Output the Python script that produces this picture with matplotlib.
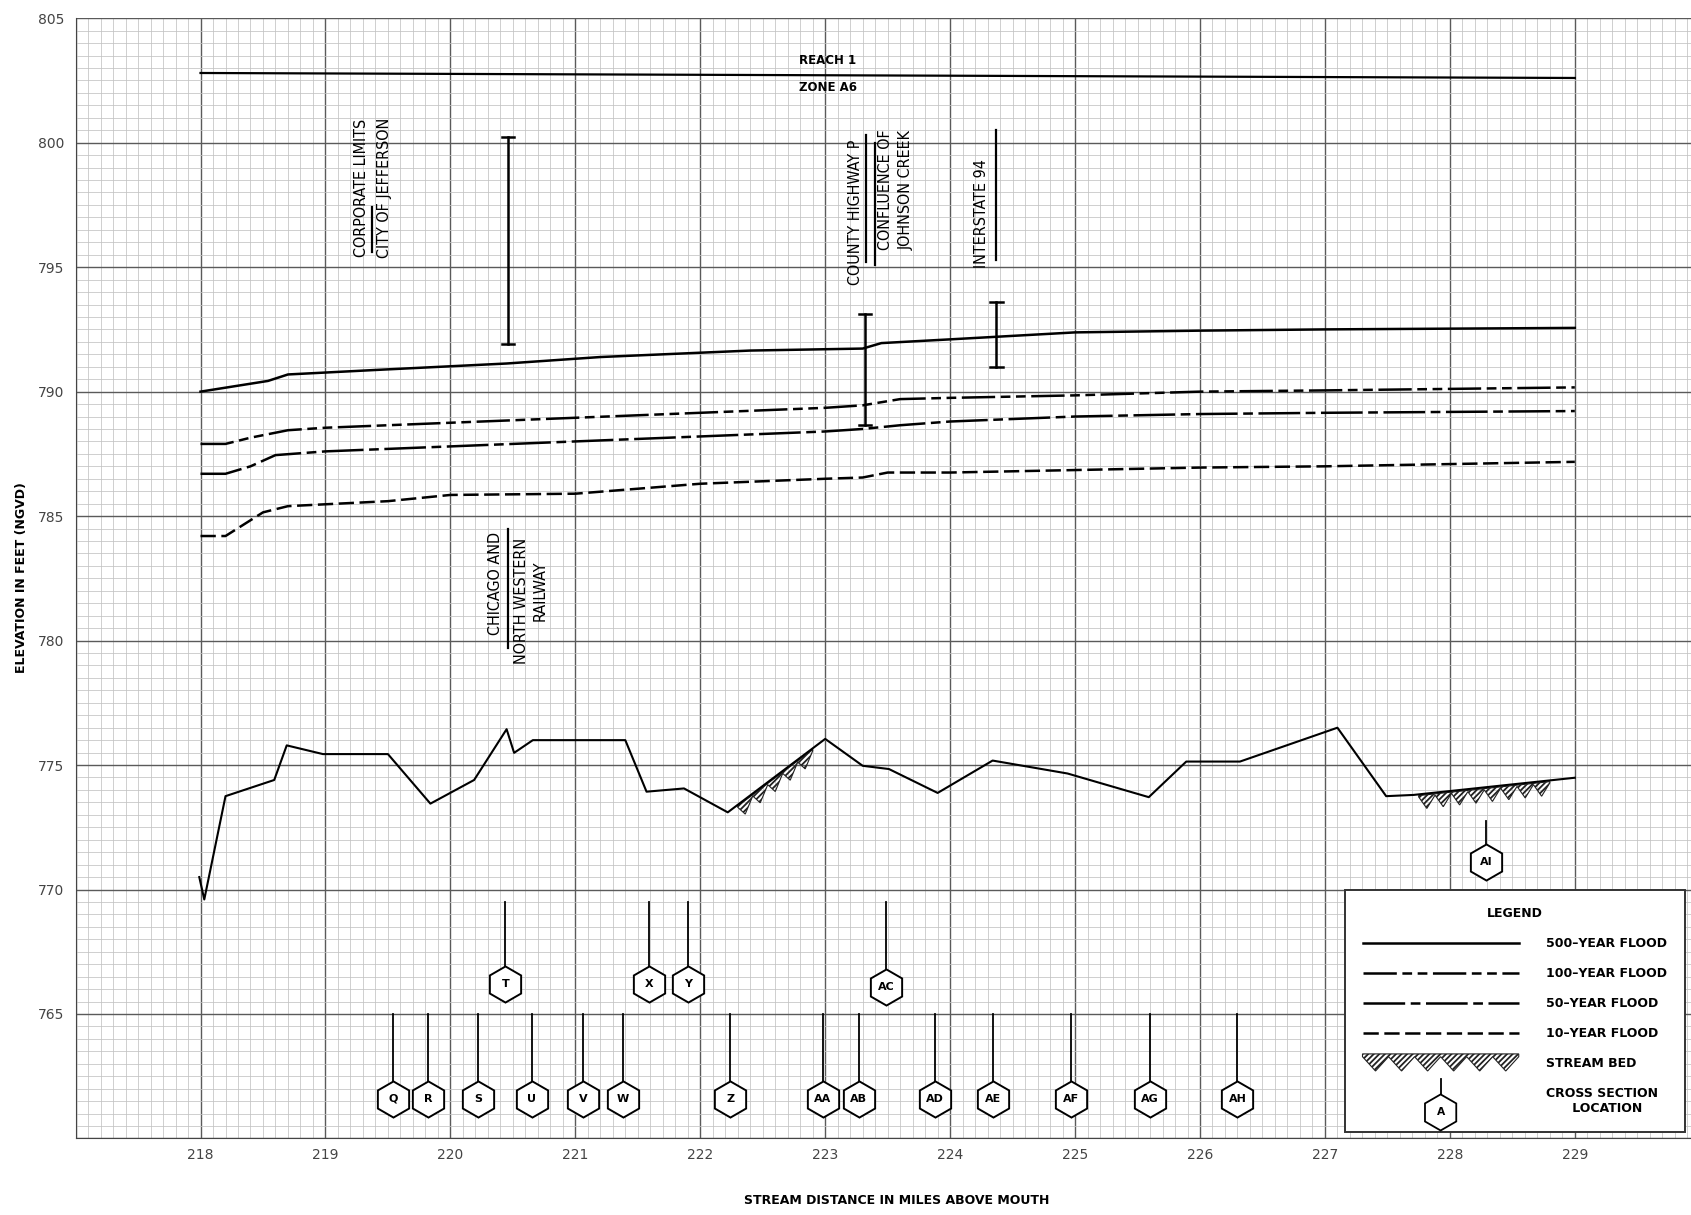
import numpy as np
import matplotlib
matplotlib.use("Agg")
import matplotlib.pyplot as plt
from matplotlib.ticker import MultipleLocator, FuncFormatter
from matplotlib.lines import Line2D
from matplotlib.patches import RegularPolygon, Polygon
from matplotlib.text import Text
from matplotlib.legend_handler import HandlerBase

plt.rcParams['font.family'] = ['Liberation Sans Narrow', 'DejaVu Sans']
plt.rcParams['lines.scale_dashes'] = False
plt.rcParams['hatch.linewidth'] = 1.3

# flood profiles (stream miles, elevation ft NGVD)
x500 = [218.0, 218.54, 218.7, 219.4, 220.45, 221.2, 222.4, 223.3, 223.45, 224.0, 225.0, 226.0, 227.0, 229.0]
y500 = [790.0, 790.43, 790.69, 790.87, 791.13, 791.39, 791.65, 791.73, 791.95, 792.1, 792.38, 792.45, 792.5, 792.56]

x100 = [218.0, 218.2, 218.4, 218.7, 219.0, 220.0, 221.0, 222.0, 223.0, 223.3, 223.6, 224.0, 225.0, 226.0, 227.0, 229.0]
y100 = [787.9, 787.9, 788.15, 788.45, 788.55, 788.75, 788.95, 789.15, 789.35, 789.45, 789.7, 789.75, 789.85, 790.0, 790.05, 790.17]

x50 = [218.0, 218.2, 218.4, 218.6, 219.0, 220.0, 221.0, 222.0, 223.0, 223.3, 223.6, 224.0, 225.0, 226.0, 227.0, 229.0]
y50 = [786.7, 786.7, 787.0, 787.45, 787.6, 787.8, 788.0, 788.2, 788.4, 788.5, 788.65, 788.8, 789.0, 789.1, 789.15, 789.22]

x10 = [218.0, 218.2, 218.5, 218.7, 219.5, 220.0, 221.0, 221.5, 222.0, 223.0, 223.3, 223.5, 224.0, 225.0, 226.0, 227.0, 229.0]
y10 = [784.2, 784.2, 785.15, 785.4, 785.6, 785.85, 785.9, 786.1, 786.3, 786.5, 786.55, 786.75, 786.75, 786.85, 786.95, 787.0, 787.18]

xbed = [217.99, 218.03, 218.2, 218.59, 218.69, 218.98, 219.5, 219.84, 220.19, 220.45, 220.51, 220.66, 221.4,
        221.57, 221.87, 222.22, 223.0, 223.3, 223.51, 223.9, 224.34, 224.94, 225.59, 225.89, 226.32, 227.1,
        227.49, 227.71, 229.0]
ybed = [770.5, 769.6, 773.75, 774.4, 775.79, 775.44, 775.44, 773.45, 774.4, 776.44, 775.49, 776.0, 776.0,
        773.93, 774.06, 773.1, 776.05, 774.97, 774.84, 773.88, 775.18, 774.66, 773.71, 775.14, 775.14, 776.5,
        773.75, 773.8, 774.49]

# hatched stream bed stretches (start, end, number of teeth)
hatch_ranges = [(222.3, 222.9, 5), (227.75, 228.8, 8)]

# reach boundary line
reach_x = [218.0, 229.0]
reach_y = [802.8, 802.6]

# bridges (I-beam symbols)
bridge_x = [220.46, 223.32, 224.37]
bridge_lo = [791.9, 788.66, 791.0]
bridge_hi = [800.23, 793.12, 793.6]

# cross sections
xs_names = ['Q', 'R', 'S', 'U', 'V', 'W', 'Z', 'AA', 'AB', 'AD', 'AE', 'AF', 'AG', 'AH',
            'T', 'X', 'Y', 'AC', 'AI']
xs_x = [219.54, 219.82, 220.22, 220.65, 221.06, 221.38, 222.24, 222.98, 223.27, 223.88, 224.34, 224.97, 225.6, 226.3,
        220.44, 221.59, 221.9, 223.49, 228.29]
xs_y = [761.6] * 14 + [766.2, 766.2, 766.2, 766.1, 771.1]
xs_top = [765.0] * 14 + [769.5, 769.5, 769.5, 769.5, 772.75]

# vertical annotations: (x, y, text)
labels = [
    (219.29, 798.2, 'CORPORATE LIMITS'),
    (219.47, 798.2, 'CITY OF JEFFERSON'),
    (220.36, 782.3, 'CHICAGO AND'),
    (220.57, 781.6, 'NORTH WESTERN'),
    (220.72, 782.0, 'RAILWAY'),
    (223.24, 797.2, 'COUNTY HIGHWAY P'),
    (223.48, 798.1, 'CONFLUENCE OF'),
    (223.65, 798.1, 'JOHNSON CREEK'),
    (224.25, 797.15, 'INTERSTATE 94'),
]
# short separator / underline marks
marks = [
    (219.375, 795.6, 797.4),
    (220.46, 779.7, 784.5),
    (223.33, 795.2, 800.3),
    (223.40, 795.1, 800.0),
    (224.37, 795.3, 800.5),
]

fig = plt.figure(figsize=(16.91, 12.15), dpi=100)
ax = fig.add_axes([0.0447, 0.063, 0.9553, 0.922])
ax.set_xlim(217.0, 229.93)
ax.set_ylim(760.0, 805.0)

ax.xaxis.set_major_locator(MultipleLocator(1))
ax.xaxis.set_minor_locator(MultipleLocator(0.1))
ax.yaxis.set_major_locator(MultipleLocator(5))
ax.yaxis.set_minor_locator(MultipleLocator(0.5))
ax.xaxis.set_major_formatter(FuncFormatter(lambda v, p: '' if v < 217.5 else '%d' % round(v)))
ax.yaxis.set_major_formatter(FuncFormatter(lambda v, p: '' if v < 762 else '%d' % round(v)))
ax.grid(which='minor', color='#c2c2c2', lw=0.55)
ax.grid(which='major', color='#5a5a5a', lw=1.0)
ax.set_axisbelow(True)
ax.tick_params(which='both', length=0)
ax.tick_params(axis='x', pad=7, labelsize=10, colors='#444444')
ax.tick_params(axis='y', pad=8, labelsize=10, colors='#444444')
for s in ['top', 'right']:
    ax.spines[s].set_visible(False)
for s in ['left', 'bottom']:
    ax.spines[s].set_color('#444444')

fig.text(0.53, 0.012, 'STREAM DISTANCE IN MILES ABOVE MOUTH', ha='center', va='center',
         fontsize=9, fontweight='bold')
fig.text(0.0125, 0.525, 'ELEVATION IN FEET (NGVD)', ha='center', va='center', rotation=90,
         fontsize=9, fontweight='bold')

# reach line
ax.plot(reach_x, reach_y, color='black', lw=1.6)
ax.text(223.02, 803.3, 'REACH 1', ha='center', va='center', fontsize=8.5, fontweight='bold')
ax.text(223.02, 802.2, 'ZONE A6', ha='center', va='center', fontsize=8.5, fontweight='bold')

# profiles
ax.plot(x500, y500, color='black', lw=1.8, label='500–YEAR FLOOD')
ax.plot(x100, y100, color='black', lw=1.8, dashes=(24, 4, 7, 4, 7, 4), label='100–YEAR FLOOD')
ax.plot(x50, y50, color='black', lw=1.8, dashes=(30, 4, 7, 4), label='50–YEAR FLOOD')
ax.plot(x10, y10, color='black', lw=1.8, dashes=(11, 4), label='10–YEAR FLOOD')
ax.plot(xbed, ybed, color='black', lw=1.5)

# zigzag hatched stream bed below the bed line
bx = np.array(xbed)
by = np.array(ybed)
for a, b, n in hatch_ranges:
    xt = np.linspace(a, b, 2 * n + 1)
    yt = np.interp(xt, bx, by) - 0.1
    yt[1::2] -= 0.5
    top_x = np.linspace(a, b, 20)
    top_y = np.interp(top_x, bx, by) - 0.05
    verts = list(zip(top_x, top_y)) + list(zip(xt[::-1], yt[::-1]))
    ax.add_patch(Polygon(verts, closed=True, facecolor='none', edgecolor='#222222', hatch='//////', lw=0.8))

# bridges
for bxv, lo, hi in zip(bridge_x, bridge_lo, bridge_hi):
    ax.plot([bxv, bxv], [lo, hi], color='black', lw=1.8)
    ax.plot([bxv - 0.05, bxv + 0.05], [lo, lo], color='black', lw=1.8)
    ax.plot([bxv - 0.05, bxv + 0.05], [hi, hi], color='black', lw=1.8)

for x, lo, hi in marks:
    ax.plot([x, x], [lo, hi], color='black', lw=1.6)

for x, y, t in labels:
    ax.text(x, y, t, rotation=90, ha='center', va='center', fontsize=11.5,
            family='DejaVu Sans', fontstretch='condensed')

# cross sections
for name, x, y, top in zip(xs_names, xs_x, xs_y, xs_top):
    ax.plot([x, x], [y + 0.65, top], color='black', lw=1.3, zorder=3)
    ax.plot(x, y, marker='h', ms=26, mfc='white', mec='black', mew=1.4, zorder=4)
    ax.text(x, y, name, ha='center', va='center', fontsize=8, fontweight='bold', zorder=5)


class HexHandler(HandlerBase):
    def create_artists(self, legend, orig_handle, xdescent, ydescent, width, height, fontsize, trans):
        cx = width / 2 - xdescent
        cy = height / 2 - ydescent
        hexa = RegularPolygon((cx, cy - 8), numVertices=6, radius=13, fc='white', ec='black', lw=1.3,
                              transform=trans)
        stem = Line2D([cx, cx], [cy + 5, cy + 16], color='black', lw=1.3, transform=trans)
        txt = Text(cx, cy - 8, 'A', ha='center', va='center', fontsize=fontsize * 0.85,
                   fontweight='bold', transform=trans)
        return [stem, hexa, txt]


class BedHandler(HandlerBase):
    def create_artists(self, legend, orig_handle, xdescent, ydescent, width, height, fontsize, trans):
        n = 6
        xs = np.linspace(-xdescent, width - xdescent, 2 * n + 1)
        top = height - ydescent + 3
        low = -ydescent - 3
        ys = np.where(np.arange(2 * n + 1) % 2 == 0, top - 2, low)
        verts = [(xs[0], top), (xs[-1], top)] + list(zip(xs[::-1], ys[::-1]))
        p = Polygon(verts, closed=True, facecolor='none', edgecolor='#222222', hatch='//////', lw=0.8,
                    transform=trans)
        return [p]


handles, names = ax.get_legend_handles_labels()
handles += ['bed', 1]
names += ['STREAM BED', 'CROSS SECTION\n      LOCATION']
leg = ax.legend(handles, names, loc='lower right', bbox_to_anchor=(1.0, 0.0), title='LEGEND',
                fontsize=9, title_fontproperties={'size': 9, 'weight': 'bold'},
                handlelength=12.5, handletextpad=2.2, labelspacing=1.35, borderpad=1.4,
                fancybox=False, edgecolor='#333333', framealpha=1,
                handler_map={str: BedHandler(), int: HexHandler()})
leg.get_frame().set_linewidth(1.4)
for t in leg.get_texts():
    t.set_fontweight('bold')

fig.savefig('out.png', dpi=100)
